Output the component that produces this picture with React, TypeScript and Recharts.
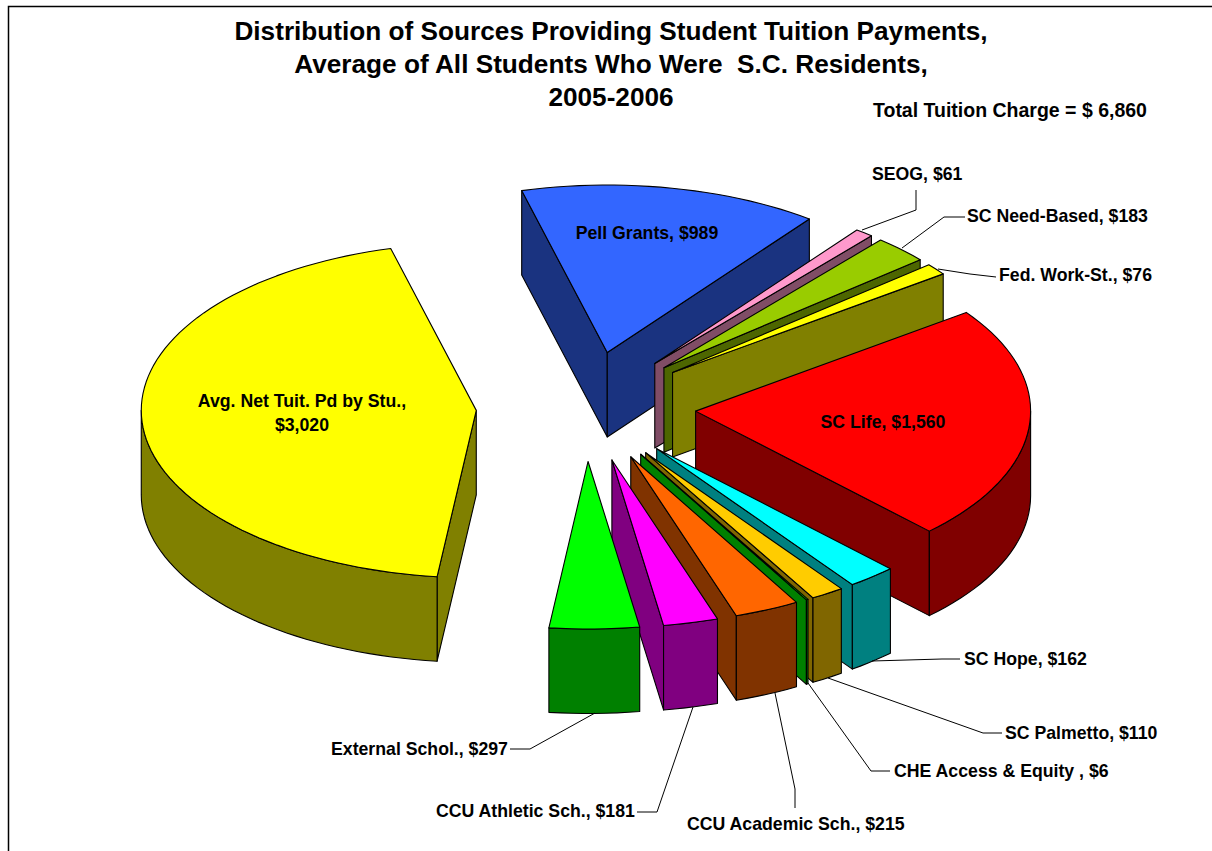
import React from "react";
import { PieChart, Pie } from "recharts";

const categories = ["Pell Grants","SEOG","SC Need-Based","Fed. Work-St.","SC Life","SC Hope","SC Palmetto","CHE Access & Equity ","CCU Academic Sch.","CCU Athletic Sch.","External Schol.","Avg. Net Tuit. Pd by Stu."];
const amounts = [989,61,183,76,1560,162,110,6,215,181,297,3020];
const topColors = ["#3366FF","#FF99CC","#99CC00","#FFFF00","#FF0000","#00FFFF","#FFCC00","#00FF00","#FF6600","#FF00FF","#00FF00","#FFFF00"];
const titleLines = ["Distribution of Sources Providing Student Tuition Payments,","Average of All Students Who Were  S.C. Residents,","2005-2006"];
const totalNote = "Total Tuition Charge = $ 6,860";
const data = categories.map((name,i)=>({name,value:amounts[i],fill:topColors[i]}));

const LABEL_FONT = 17.7;
const labelLayout:{x:number;y:number;anchor:string;line?:number[][]}[] = [
  {x:647,y:239,anchor:"middle"},
  {x:872,y:180,anchor:"start",line:[[916,190],[916,210],[862,230]]},
  {x:967,y:222,anchor:"start",line:[[902,248],[944,217],[965,217]]},
  {x:999,y:281,anchor:"start",line:[[938,269],[970,274],[996,277]]},
  {x:883,y:428,anchor:"middle"},
  {x:964,y:665,anchor:"start",line:[[872,661],[942,659],[960,659]]},
  {x:1005,y:739,anchor:"start",line:[[828,678],[983,733],[1002,733]]},
  {x:894,y:777,anchor:"start",line:[[808,683],[871,771],[890,771]]},
  {x:687,y:830,anchor:"start",line:[[775,693],[795,789],[795,808]]},
  {x:436,y:817,anchor:"start",line:[[693,707],[657,812],[637,812]]},
  {x:331,y:755,anchor:"start",line:[[595,713],[530,749],[510,749]]},
  {x:302,y:407,anchor:"middle"},
];

const K = 0.5, DEPTH = 84.5, EXPLODE = 110;
const rad = (a:number)=>a*Math.PI/180;
function darken(hex:string){const n=parseInt(hex.slice(1),16);const c=[(n>>16)&255,(n>>8)&255,n&255].map(v=>Math.round(v/2));return `rgb(${c.join(",")})`;}

function Slice(p:any){
  const {cx,cy,outerRadius:r,startAngle:a1,endAngle:a2,fill}=p;
  const mid=(a1+a2)/2;
  const ox=cx+EXPLODE*Math.cos(rad(mid)), oy=cy-EXPLODE*K*Math.sin(rad(mid));
  const pt=(a:number,d=0):[number,number]=>[ox+r*Math.cos(rad(a)),oy-r*K*Math.sin(rad(a))+d];
  const f=(q:[number,number])=>q[0].toFixed(2)+" "+q[1].toFixed(2);
  const hi=Math.max(a1,a2),lo=Math.min(a1,a2);
  const side=darken(fill);
  const faces:React.ReactNode[]=[];
  const quad=(a:number,key:string)=>{const e=pt(a);faces.push(<path key={key} d={`M${ox} ${oy}L${f(e)}L${e[0]} ${e[1]+DEPTH}L${ox} ${oy+DEPTH}Z`} fill={side} stroke="#000" strokeWidth={1.1} strokeLinejoin="round"/>);};
  if(Math.cos(rad(hi))<0) quad(hi,"h");
  if(Math.cos(rad(lo))>0) quad(lo,"l");
  for(let base=-360;base<=360;base+=360){
    const s=Math.max(lo,base+180), e=Math.min(hi,base+360);
    if(e>s){
      const pts:string[]=[];const back:string[]=[];
      const n=Math.ceil((e-s)/2);
      for(let i=0;i<=n;i++){const a=s+(e-s)*i/n;pts.push(f(pt(a)));back.unshift(f(pt(a,DEPTH)));}
      faces.push(<path key={"arc"+base} d={"M"+pts.join("L")+"L"+back.join("L")+"Z"} fill={side} stroke="#000" strokeWidth={1.1} strokeLinejoin="round"/>);
    }
  }
  const top:string[]=[];const n=Math.ceil((hi-lo)/2);
  for(let i=0;i<=n;i++)top.push(f(pt(lo+(hi-lo)*i/n)));
  return <g>{faces}<path d={`M${ox} ${oy}L${top.join("L")}Z`} fill={fill} stroke="#000" strokeWidth={1.1} strokeLinejoin="round"/></g>;
}

const FONT = "'Liberation Sans', Arial, sans-serif";
function SliceLabel(p:any){
  const i:number=p.index;
  const l=labelLayout[i];
  const text=`${categories[i]}, $${amounts[i].toLocaleString("en-US")}`;
  const common={fontFamily:FONT,fontWeight:700,fontSize:LABEL_FONT,fill:"#000",textAnchor:l.anchor as any};
  return <g>
    {l.line && <polyline points={l.line.map(q=>q.join(",")).join(" ")} fill="none" stroke="#000" strokeWidth={1}/>}
    {i===11
      ? <><text x={l.x} y={l.y} {...common}>{categories[i]+","}</text><text x={l.x} y={l.y+24} {...common}>{`$${amounts[i].toLocaleString("en-US")}`}</text></>
      : <text x={l.x} y={l.y} {...common}>{text}</text>}
  </g>;
}

export default function App(){
  return <div style={{position:"absolute",left:0,top:0,width:1212,height:851,overflow:"hidden",background:"#fff"}}>
    <PieChart width={1212} height={851} margin={{top:0,right:0,bottom:0,left:0}}>
      <path d="M8.5 851V6.5H1212" fill="none" stroke="#000" strokeWidth={1.5}/>
      {titleLines.map((t,i)=><text key={i} x={611} y={40+33*i} textAnchor="middle" fontFamily={FONT} fontWeight={700} fontSize={26.2} fill="#000" style={{whiteSpace:"pre"}}>{t}</text>)}
      <text x={873} y={117} fontFamily={FONT} fontWeight={700} fontSize={19.5} fill="#000">{totalNote}</text>
      <Pie data={data} dataKey="value" nameKey="name" cx={586} cy={406.5} outerRadius={335} innerRadius={0} startAngle={104.8} endAngle={-255.2} stroke="none" isAnimationActive={false} shape={Slice} label={SliceLabel} labelLine={false} />
    </PieChart>
  </div>;
}
